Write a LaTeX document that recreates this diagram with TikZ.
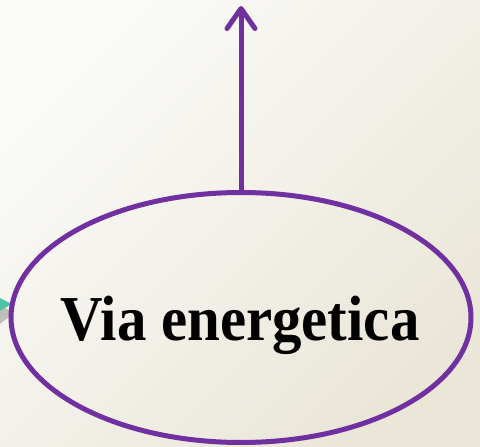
\documentclass[tikz,border=0pt]{standalone}
\usepackage{fontspec}
\setmainfont{Liberation Serif}
\usetikzlibrary{shapes.geometric,arrows.meta}
\definecolor{bgtl}{HTML}{FAFAF8}
\definecolor{bgbr}{HTML}{EAE6D8}
\definecolor{vio}{HTML}{7030A0}
\definecolor{tealc}{HTML}{4EC3A6}
\tikzset{
  oval/.style={ellipse, draw=vio, line width=5pt, minimum width=460pt, minimum height=250pt, inner sep=0pt},
  conn/.style={draw=vio, line width=5pt, -{Straight Barb[length=20pt,width=28pt,round]}},
  lbl/.style={font=\bfseries\fontsize{64}{70}\selectfont, inner sep=0pt}
}
\begin{document}
\begin{tikzpicture}[x=1pt,y=-1pt]
\shade[left color=bgtl, right color=bgbr, shading angle=45] (0,0) rectangle (480,447);
\useasboundingbox (0,0) rectangle (480,447);
% teal arrowhead at left edge (partly outside)
\fill[black, opacity=0.22] (-4,303) -- (14,313) -- (-4,327) -- cycle;
\fill[tealc] (-6,295) -- (12,304) -- (-6,314) -- cycle;
\node[oval] (via) at (241,317.5) {};
\node[lbl, anchor=base] (txt) at (240,340) {\scalebox{0.92}[1]{Via energetica}};
\coordinate (top) at (241,6);
\draw[conn] (via.north) -- (top);
\end{tikzpicture}
\end{document}
